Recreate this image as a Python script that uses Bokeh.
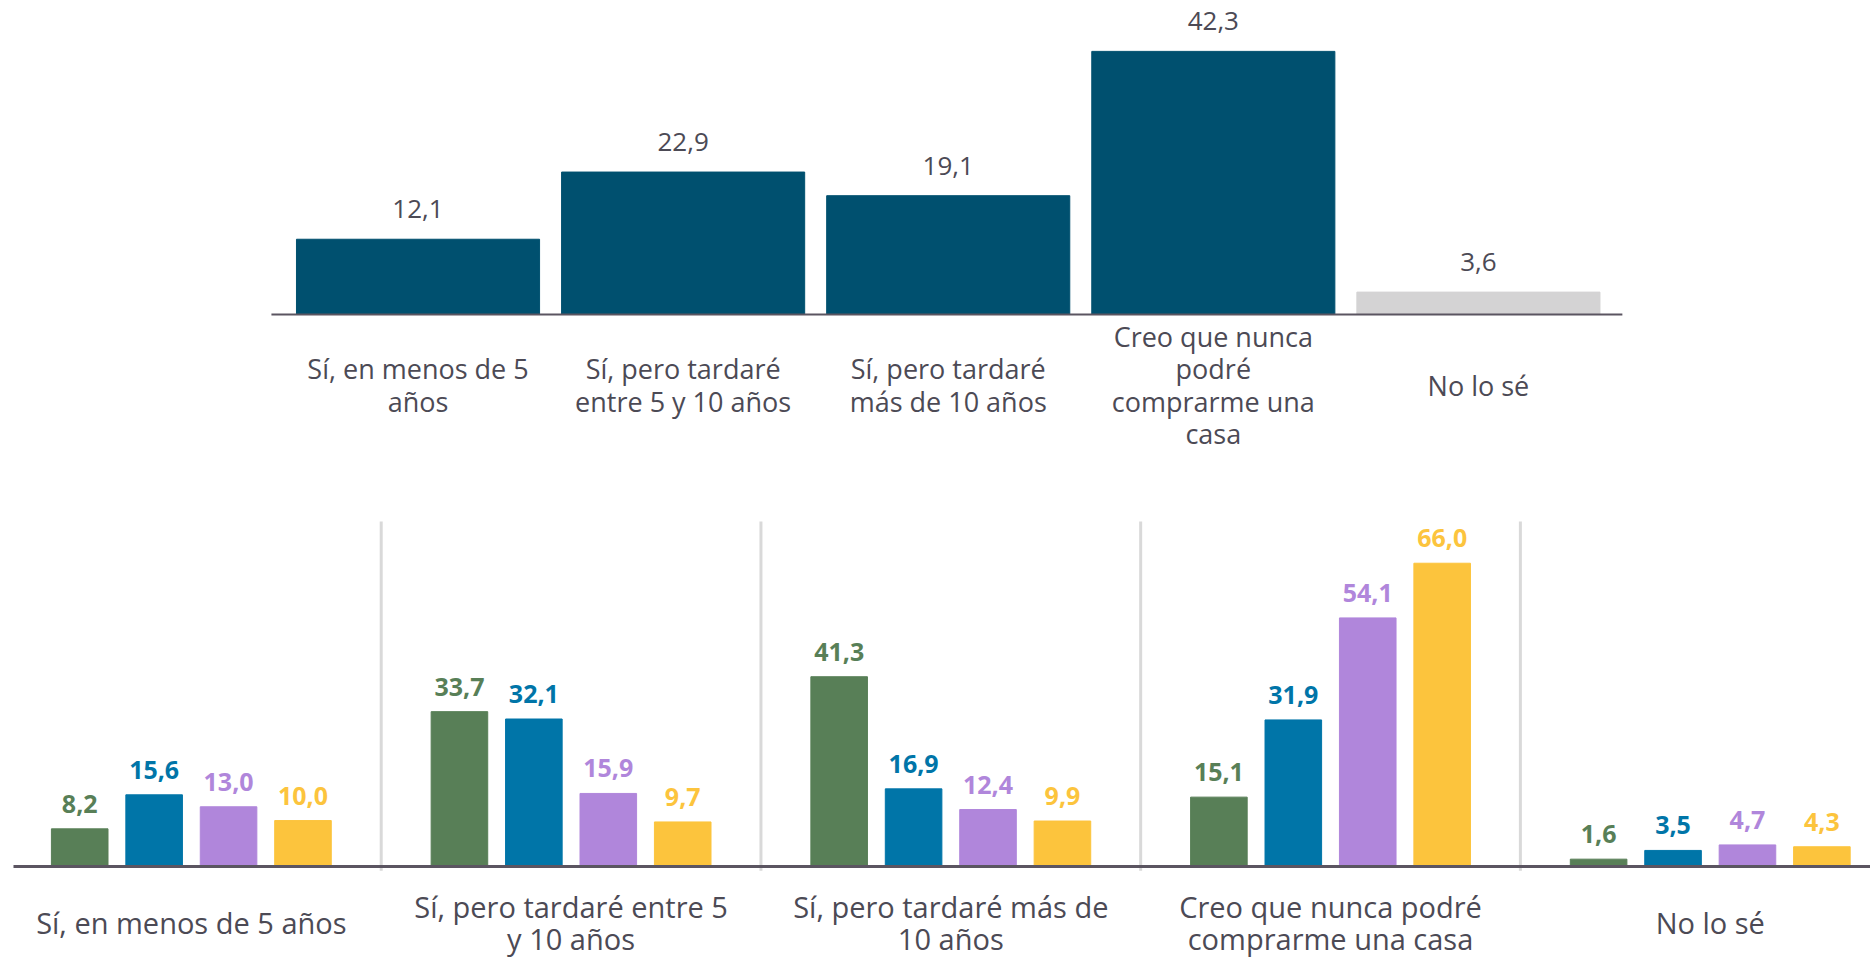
from bokeh.plotting import figure
from bokeh.layouts import column
from bokeh.models import ColumnDataSource, Range1d
from bokeh.core.properties import value
from bokeh.transform import dodge
from bokeh.embed import file_html
from bokeh.resources import INLINE

# ---------------- data ----------------
categories_top = [
    "Sí, en menos de 5\naños",
    "Sí, pero tardaré\nentre 5 y 10 años",
    "Sí, pero tardaré\nmás de 10 años",
    "Creo que nunca\npodré\ncomprarme una\ncasa",
    "No lo sé",
]
values_top = [12.1, 22.9, 19.1, 42.3, 3.6]
colors_top = ["#00506f", "#00506f", "#00506f", "#00506f", "#d4d3d4"]

categories_bottom = [
    "Sí, en menos de 5 años",
    "Sí, pero tardaré entre 5\ny 10 años",
    "Sí, pero tardaré más de\n10 años",
    "Creo que nunca podré\ncomprarme una casa",
    "No lo sé",
]
series_1 = [8.2, 33.7, 41.3, 15.1, 1.6]
series_2 = [15.6, 32.1, 16.9, 31.9, 3.5]
series_3 = [13.0, 15.9, 12.4, 54.1, 4.7]
series_4 = [10.0, 9.7, 9.9, 66.0, 4.3]
series_colors = ["#587f57", "#0075a8", "#b086db", "#fcc43d"]

FONT = value("Open Sans")
TEXT_GREY = "#4c4a55"
AXIS_COLOR = "#5b5561"


def fmt(v):
    return f"{v:.1f}".replace(".", ",")


# ---------------- top chart ----------------
n_top = len(categories_top)
pos_top = [i + 0.5 for i in range(n_top)]
src_top = ColumnDataSource(dict(
    x=pos_top,
    v=values_top,
    lbl=[fmt(v) for v in values_top],
    cat=categories_top,
    color=colors_top,
    zero=[0] * n_top,
))

p1 = figure(width=1870, height=458, output_backend="svg", toolbar_location=None,
            x_range=Range1d(-1.075, 5.979), y_range=Range1d(-23.15, 50.48),
            x_axis_location=None, y_axis_location=None, min_border=0)
p1.grid.visible = False
p1.outline_line_color = None
p1.background_fill_color = "white"
p1.border_fill_color = "white"

p1.vbar(x="x", top="v", bottom=0, width=0.917, color="color", source=src_top)
# baseline spanning the category band
p1.segment(x0=[-0.053], x1=[n_top + 0.043], y0=[0], y1=[0], line_color=AXIS_COLOR, line_width=2)
p1.text(x="x", y="v", text="lbl", source=src_top, text_align="center", text_baseline="middle",
        y_offset=-30, text_font=FONT, text_font_size="26px", text_color=TEXT_GREY)
p1.text(x="x", y="zero", text="cat", source=src_top, text_align="center", text_baseline="middle",
        y_offset=70.5, text_font=FONT, text_font_size="27px", text_color=TEXT_GREY,
        text_line_height=0.88)

# ---------------- bottom chart ----------------
n_bot = len(categories_bottom)
pos_bot = [i + 0.5 for i in range(n_bot)]
all_series = [series_1, series_2, series_3, series_4]
data_bot = dict(x=pos_bot, cat=categories_bottom, zero=[0] * n_bot)
for k, s in enumerate(all_series):
    data_bot[f"s{k}"] = s
    data_bot[f"l{k}"] = [fmt(v) for v in s]
src_bot = ColumnDataSource(data_bot)

p2 = figure(width=1870, height=499, output_backend="svg", toolbar_location=None,
            x_range=Range1d(-0.0026, 4.922), y_range=Range1d(-19.80, 88.79),
            x_axis_location=None, y_axis_location=None, min_border=0)
p2.grid.visible = False
p2.outline_line_color = None
p2.background_fill_color = "white"
p2.border_fill_color = "white"

sep_x = [i for i in range(1, n_bot)]
p2.segment(x0=sep_x, x1=sep_x, y0=[-0.9] * len(sep_x), y1=[75.1] * len(sep_x),
           line_color="#d9d9d9", line_width=3)

step = 0.196
for k in range(len(all_series)):
    off = (k - 1.5) * step
    p2.vbar(x=dodge("x", off, range=p2.x_range), top=f"s{k}", bottom=0, width=0.149,
            color=series_colors[k], source=src_bot)
    p2.text(x=dodge("x", off, range=p2.x_range), y=f"s{k}", text=f"l{k}", source=src_bot,
            text_align="center", text_baseline="middle", y_offset=-25,
            text_font=FONT, text_font_size="25px", text_font_style="bold",
            text_color=series_colors[k])

# baseline (drawn above bars)
p2.segment(x0=[0.0316], x1=[n_bot + 0.1], y0=[0], y1=[0], line_color=AXIS_COLOR, line_width=3)
p2.text(x="x", y="zero", text="cat", source=src_bot, text_align="center", text_baseline="middle",
        y_offset=56, text_font=FONT, text_font_size="29px", text_color=TEXT_GREY,
        text_line_height=0.82)

layout = column(p1, p2, spacing=0)
open("out.html", "w").write(file_html(layout, INLINE))
